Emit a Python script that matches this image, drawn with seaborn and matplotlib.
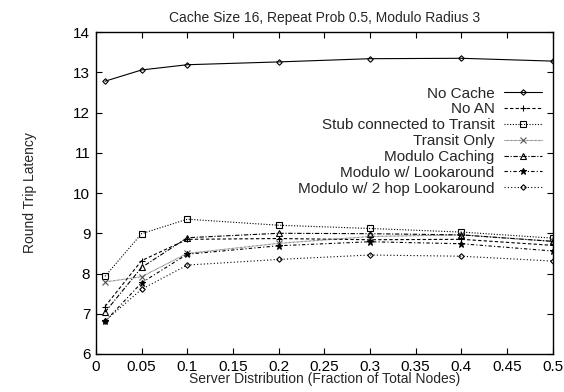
import matplotlib
matplotlib.use("Agg")
import matplotlib.pyplot as plt
import seaborn as sns
import pandas as pd

sns.set_theme(style="ticks")
plt.rcParams['font.family'] = ['Liberation Sans', 'DejaVu Sans']

x_vals = [0.01, 0.05, 0.1, 0.2, 0.3, 0.4, 0.5]
no_cache = [12.78, 13.06, 13.19, 13.26, 13.34, 13.35, 13.28]
no_an = [7.18, 8.32, 8.85, 8.87, 8.84, 8.85, 8.70]
stub_transit = [7.93, 8.99, 9.35, 9.20, 9.12, 9.03, 8.88]
transit_only = [7.79, 7.92, 8.50, 8.75, 8.92, 8.96, 8.80]
modulo_caching = [7.04, 8.15, 8.89, 9.00, 8.99, 8.96, 8.80]
modulo_look = [6.81, 7.77, 8.48, 8.69, 8.79, 8.74, 8.56]
modulo_2hop = [6.82, 7.61, 8.21, 8.35, 8.46, 8.43, 8.31]

series = [
    ("No Cache", no_cache, "-", "D", 2.8, "black"),
    ("No AN", no_an, (0, (3, 2)), "+", 5.0, "black"),
    ("Stub connected to Transit", stub_transit, (0, (1, 1.5)), "s", 4.0, "black"),
    ("Transit Only", transit_only, (0, (0.6, 0.6)), "x", 4.0, "#555555"),
    ("Modulo Caching", modulo_caching, (0, (4, 1.5, 1, 1.5)), "^", 4.0, "black"),
    ("Modulo w/ Lookaround", modulo_look, (0, (3, 2, 1, 2)), "*", 5.0, "black"),
    ("Modulo w/ 2 hop Lookaround", modulo_2hop, (0, (1, 2)), "D", 2.8, "black"),
]

fig = plt.figure(figsize=(5.64, 3.92), dpi=100)
ax = fig.add_axes([0.170, 0.097, 0.810, 0.821])

for name, vals, ls, mk, ms, col in series:
    df = pd.DataFrame({"x": x_vals, "y": vals})
    sns.lineplot(data=df, x="x", y="y", ax=ax, color=col, linestyle=ls,
                 linewidth=0.8, marker=mk, markersize=ms,
                 markerfacecolor="none" if mk in ("D", "s", "^") else col,
                 markeredgecolor=col, markeredgewidth=0.8, label=name)

ax.set_xlim(0, 0.5)
ax.set_ylim(6, 14)
ax.set_xticks([0, 0.05, 0.1, 0.15, 0.2, 0.25, 0.3, 0.35, 0.4, 0.45, 0.5])
ax.set_xticklabels(["0", "0.05", "0.1", "0.15", "0.2", "0.25", "0.3", "0.35", "0.4", "0.45", "0.5"])
ax.set_yticks(range(6, 15))
ax.tick_params(direction="in", top=True, right=True, length=4, width=0.8,
               labelsize=11, colors="black", pad=4)
for s in ax.spines.values():
    s.set_linewidth(1.0)
    s.set_color("black")
ax.set_xlabel("Server Distribution (Fraction of Total Nodes)", fontsize=10, labelpad=-1)
ax.set_ylabel("Round Trip Latency", fontsize=10, labelpad=26)
ax.set_title("Cache Size 16, Repeat Prob 0.5, Modulo Radius 3", fontsize=10, pad=7)

leg = ax.legend(loc="upper right", bbox_to_anchor=(0.99, 0.85), frameon=False,
                markerfirst=False, fontsize=11, handlelength=2.5,
                labelspacing=0.12, handletextpad=0.6, borderaxespad=0)
for t in leg.get_texts():
    t.set_ha("right")
leg._legend_box.align = "right"

fig.savefig("out.png", dpi=100)
